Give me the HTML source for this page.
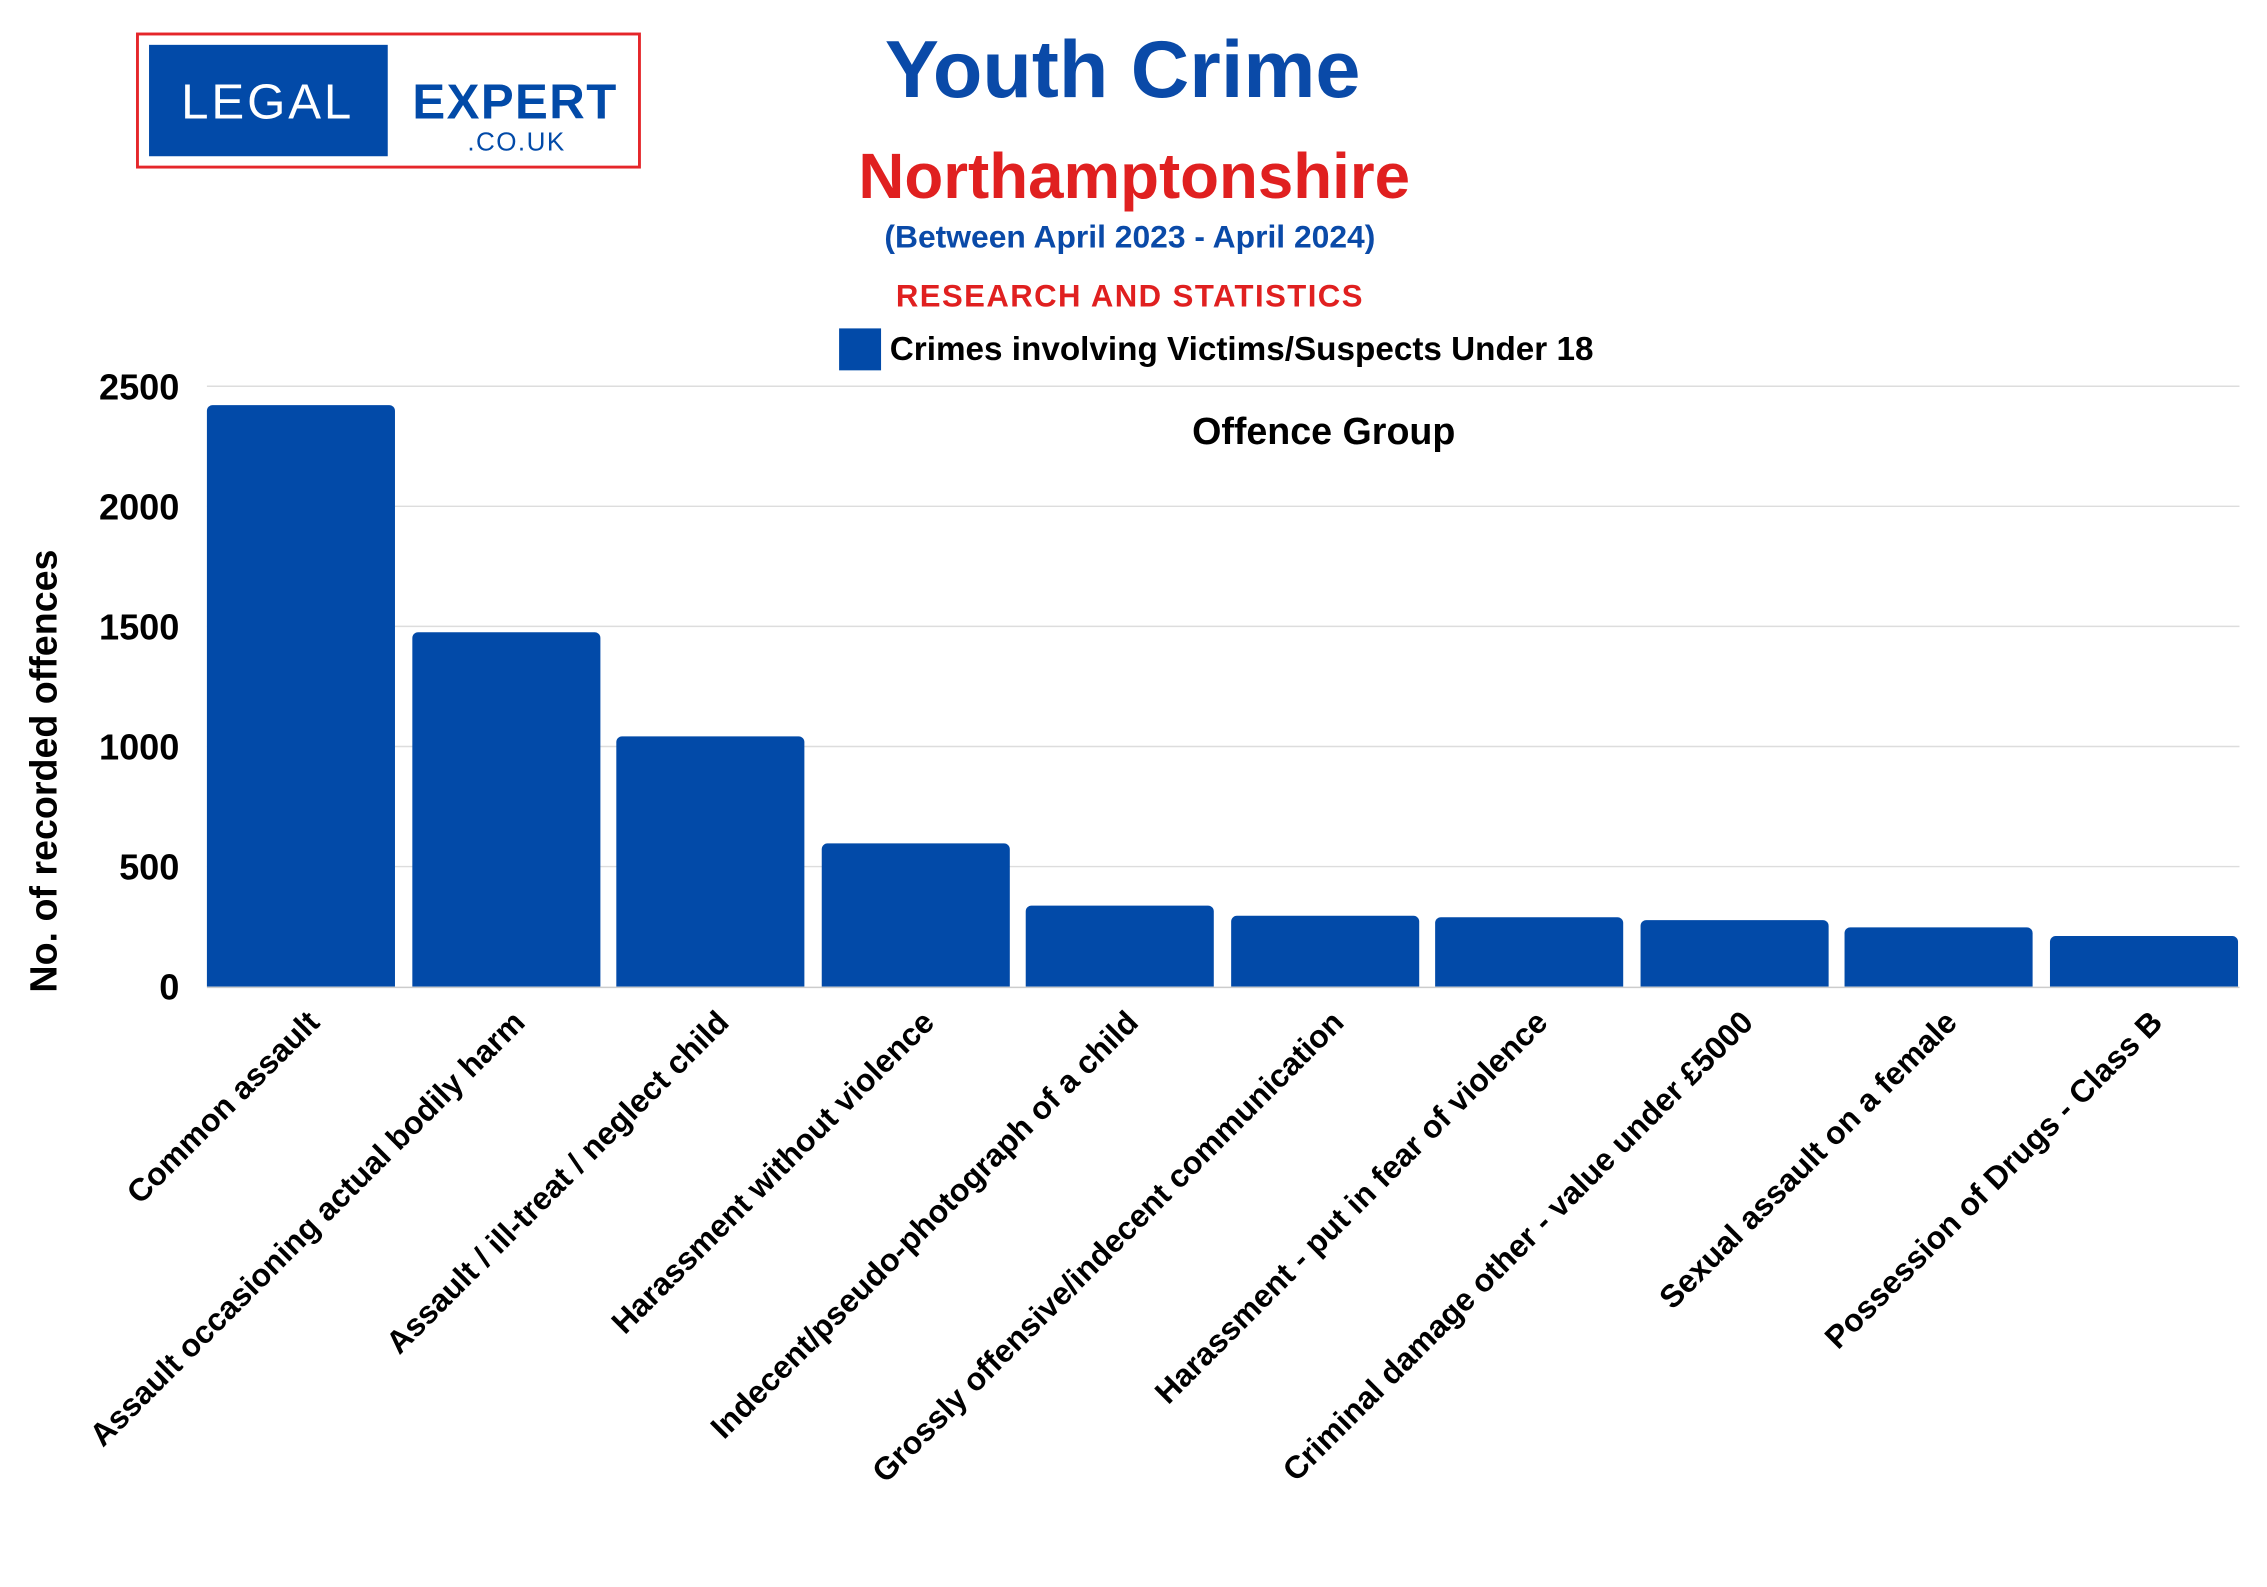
<!DOCTYPE html>
<html><head><meta charset="utf-8"><style>
html,body{margin:0;padding:0;background:#fff;}
svg{display:block;}
text{font-family:"Liberation Sans",sans-serif;font-weight:bold;}
</style></head><body>
<svg width="2267" height="1587" viewBox="0 0 1567 1097" xmlns="http://www.w3.org/2000/svg">
<rect width="1567" height="1097" fill="#fff"/>
<!-- logo -->
<rect x="95" y="23.5" width="347" height="92" fill="#fff" stroke="#e5262a" stroke-width="2"/>
<rect x="103" y="31" width="165" height="77" fill="#024aa8"/>
<text x="185" y="82" font-size="34" fill="#fff" text-anchor="middle" style="font-weight:normal" letter-spacing="2">LEGAL</text>
<text x="356" y="82" font-size="34" fill="#024aa8" text-anchor="middle" letter-spacing="1">EXPERT</text>
<text x="357" y="104" font-size="18" fill="#024aa8" text-anchor="middle" style="font-weight:normal" letter-spacing="1">.CO.UK</text>
<!-- titles -->
<text x="776" y="67" font-size="56" fill="#0a4aa8" text-anchor="middle">Youth Crime</text>
<text x="784" y="137" font-size="44" fill="#e02020" text-anchor="middle">Northamptonshire</text>
<text x="781" y="171" font-size="22" fill="#0a4aa8" text-anchor="middle">(Between April 2023 - April 2024)</text>
<text x="781" y="212" font-size="21.5" fill="#e02020" text-anchor="middle" letter-spacing="1">RESEARCH AND STATISTICS</text>
<rect x="580" y="227" width="29" height="29" fill="#024aa8"/>
<text x="615" y="249" font-size="23" fill="#000">Crimes involving Victims/Suspects Under 18</text>
<!-- grid -->
<g stroke="#dddddd" stroke-width="1">
<line x1="143" y1="267" x2="1548" y2="267"/>
<line x1="143" y1="350" x2="1548" y2="350"/>
<line x1="143" y1="433" x2="1548" y2="433"/>
<line x1="143" y1="516" x2="1548" y2="516"/>
<line x1="143" y1="599" x2="1548" y2="599"/>
</g>
<g font-size="25" fill="#000" text-anchor="end">
<text x="124" y="276">2500</text>
<text x="124" y="359">2000</text>
<text x="124" y="442">1500</text>
<text x="124" y="525">1000</text>
<text x="124" y="608">500</text>
<text x="124" y="691">0</text>
</g>
<text x="915" y="307" font-size="26" fill="#000" text-anchor="middle">Offence Group</text>
<text transform="translate(39,533) rotate(-90)" font-size="26" fill="#000" text-anchor="middle">No. of recorded offences</text>
<!-- bars -->
<g fill="#024aa8">
<rect x="143" y="280" width="130" height="410" rx="4"/>
<rect x="285" y="437" width="130" height="253" rx="4"/>
<rect x="426" y="509" width="130" height="181" rx="4"/>
<rect x="568" y="583" width="130" height="107" rx="4"/>
<rect x="709" y="626" width="130" height="64" rx="4"/>
<rect x="851" y="633" width="130" height="57" rx="4"/>
<rect x="992" y="634" width="130" height="56" rx="4"/>
<rect x="1134" y="636" width="130" height="54" rx="4"/>
<rect x="1275" y="641" width="130" height="49" rx="4"/>
<rect x="1417" y="647" width="130" height="43" rx="4"/>
</g>
<rect x="140" y="682" width="1420" height="10" fill="#fff"/>
<line x1="143" y1="682.5" x2="1548" y2="682.5" stroke="#cccccc" stroke-width="1"/>
<!-- x labels -->
<g font-size="22" fill="#000" text-anchor="end">
<text transform="translate(222,708) rotate(-45)">Common assault</text>
<text transform="translate(364,708) rotate(-45)">Assault occasioning actual bodily harm</text>
<text transform="translate(505,708) rotate(-45)">Assault / ill-treat / neglect child</text>
<text transform="translate(647,708) rotate(-45)">Harassment without violence</text>
<text transform="translate(788,708) rotate(-45)">Indecent/pseudo-photograph of a child</text>
<text transform="translate(930,708) rotate(-45)">Grossly offensive/indecent communication</text>
<text transform="translate(1071,708) rotate(-45)">Harassment - put in fear of violence</text>
<text transform="translate(1213,708) rotate(-45)">Criminal damage other - value under £5000</text>
<text transform="translate(1354,708) rotate(-45)">Sexual assault on a female</text>
<text transform="translate(1496,708) rotate(-45)">Possession of Drugs - Class B</text>
</g>
</svg>
</body></html>
